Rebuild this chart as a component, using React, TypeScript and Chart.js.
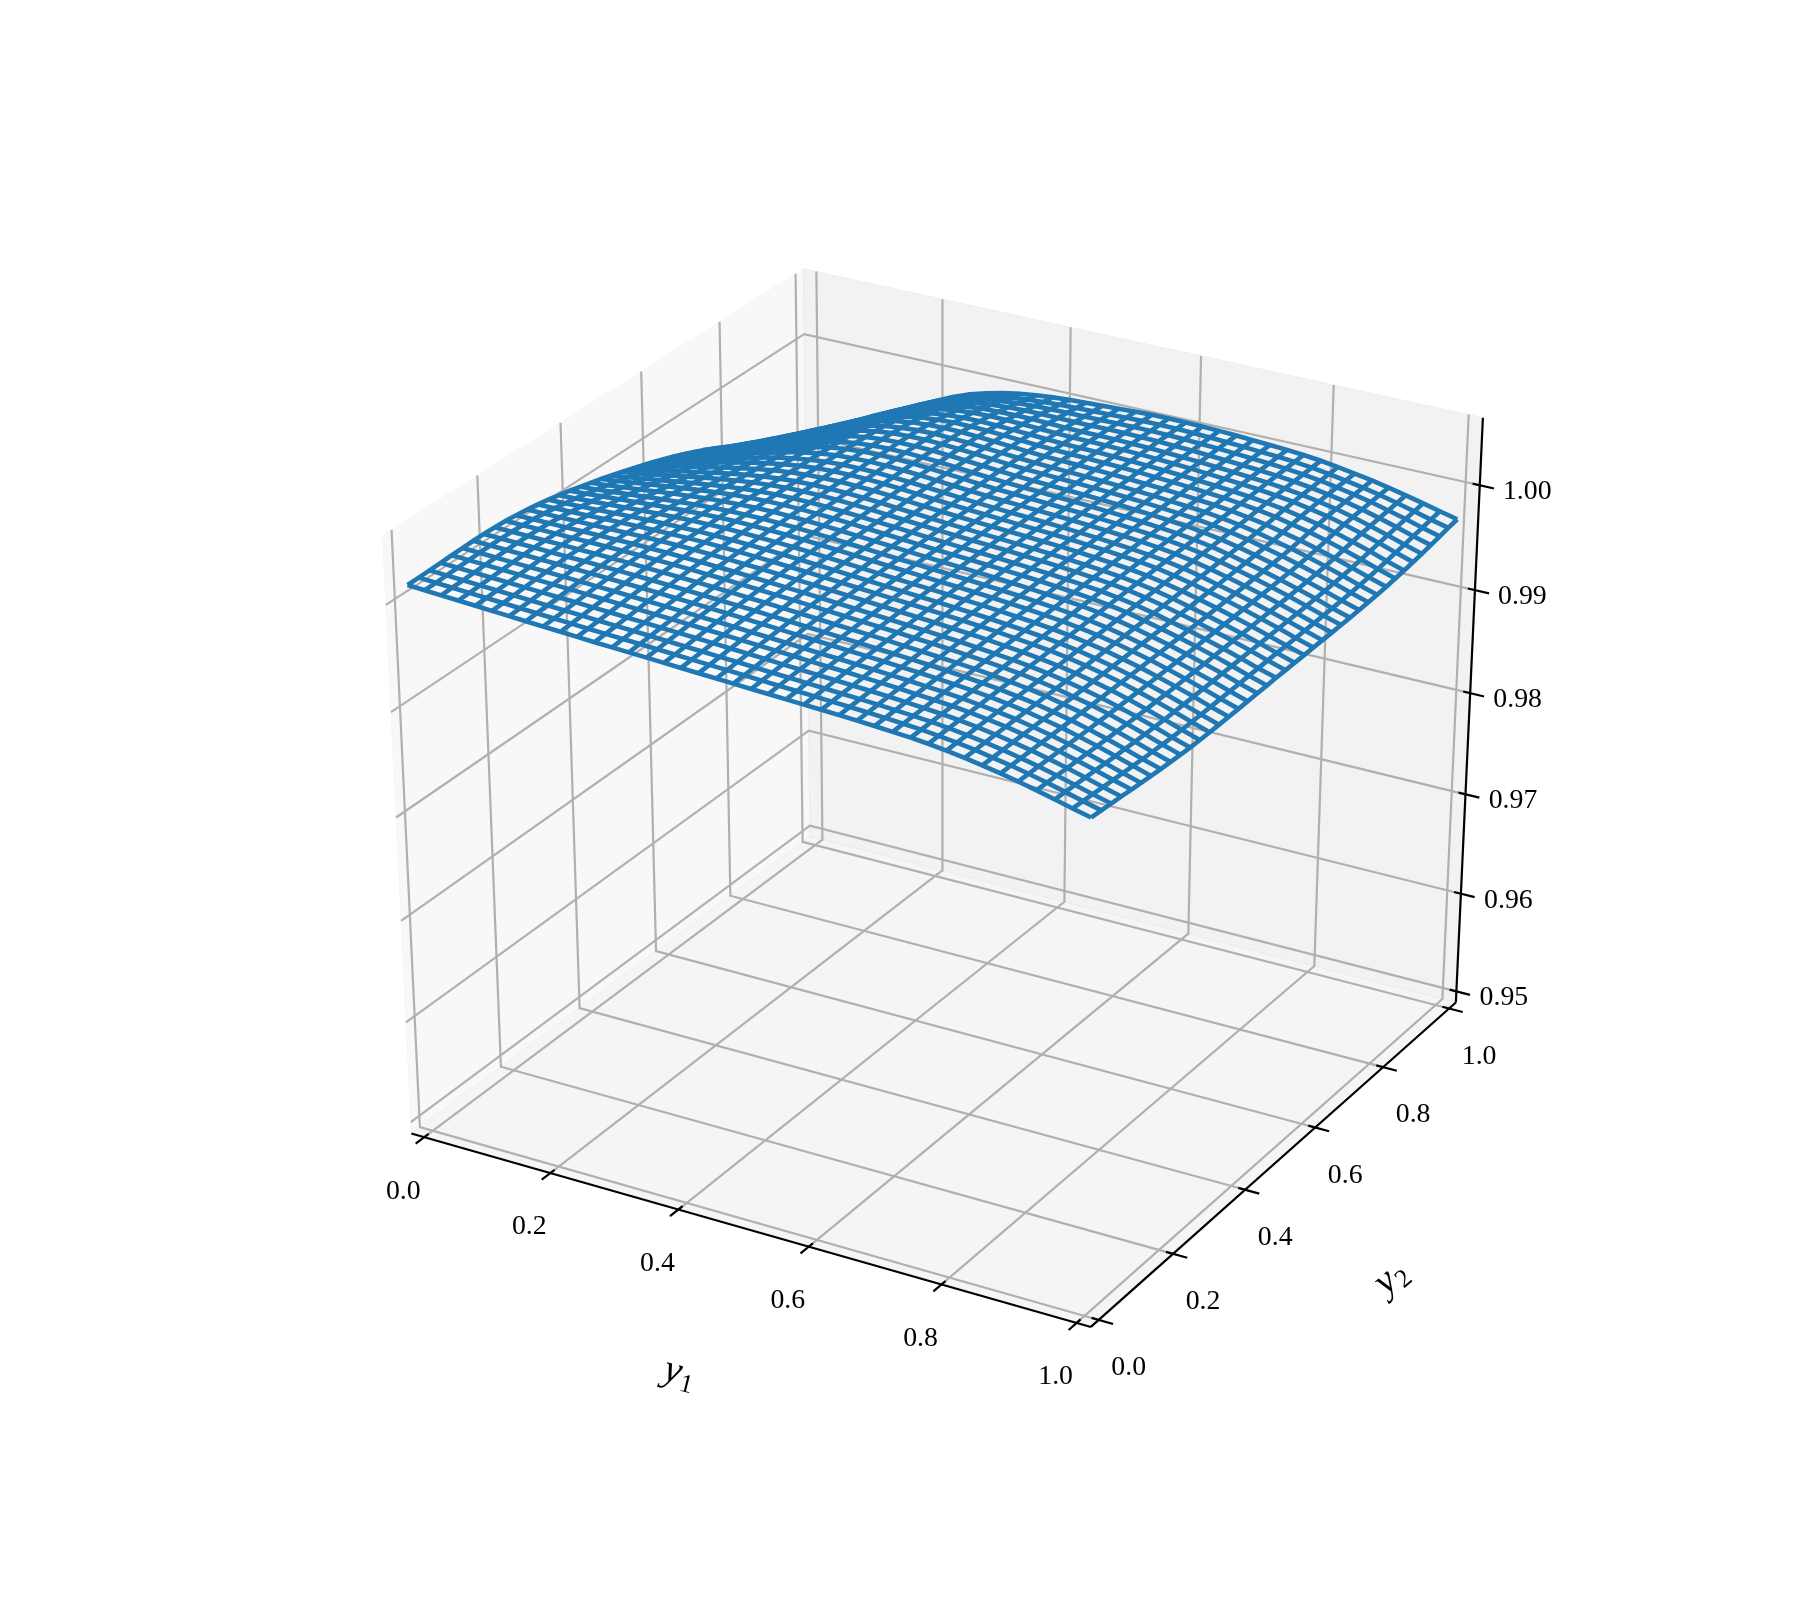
import React, { useEffect, useRef } from "react";
import { Chart, registerables } from "chart.js";
Chart.register(...registerables);

const xTicks = [0, 0.2, 0.4, 0.6, 0.8, 1.0];
const yTicks = [0, 0.2, 0.4, 0.6, 0.8, 1.0];
const zTicks = [0.95, 0.96, 0.97, 0.98, 0.99, 1.0];
const zLim = [0.95, 1.0052];
const gridY = [0,.026,.051,.077,.103,.128,.154,.179,.205,.231,.256,.282,.308,.333,.359,.385,.41,.436,.462,.487,.513,.538,.564,.59,.615,.641,.667,.692,.718,.744,.769,.795,.821,.846,.872,.897,.923,.949,.974,1];
// surface heights: z = 0.95 + value / 100000; one row per y2, one column per y1
const surfaceRows = [
[5160,5151,5141,5132,5123,5113,5104,5095,5086,5077,5068,5059,5051,5043,5035,5027,5019,5011,5003,4994,4986,4978,4970,4963,4955,4947,4938,4928,4916,4904,4888,4867,4843,4815,4784,4750,4712,4671,4630,4590],
[5161,5152,5144,5135,5127,5118,5109,5101,5092,5084,5075,5067,5059,5051,5043,5035,5026,5018,5010,5001,4992,4984,4976,4968,4959,4951,4941,4931,4919,4906,4889,4868,4843,4814,4783,4748,4709,4667,4624,4582],
[5164,5156,5148,5140,5132,5124,5116,5108,5100,5092,5083,5075,5067,5059,5051,5042,5034,5025,5017,5008,4998,4990,4981,4973,4964,4955,4945,4934,4922,4908,4891,4869,4844,4814,4782,4746,4705,4661,4617,4574],
[5167,5160,5152,5145,5138,5130,5123,5115,5108,5100,5092,5084,5076,5067,5059,5051,5042,5033,5024,5015,5005,4996,4987,4978,4969,4959,4949,4937,4924,4910,4892,4870,4844,4814,4781,4743,4701,4656,4610,4566],
[5171,5164,5157,5150,5144,5137,5130,5123,5116,5108,5100,5092,5084,5076,5067,5059,5050,5041,5031,5022,5012,5002,4993,4984,4974,4964,4953,4940,4927,4912,4894,4871,4844,4814,4779,4741,4697,4651,4603,4557],
[5174,5168,5161,5155,5149,5143,5137,5130,5123,5116,5108,5101,5092,5084,5075,5067,5058,5048,5038,5028,5018,5008,4999,4989,4979,4968,4956,4944,4930,4914,4895,4872,4845,4813,4778,4739,4693,4645,4596,4548],
[5176,5170,5165,5159,5154,5148,5143,5137,5130,5124,5116,5109,5100,5092,5083,5074,5065,5055,5045,5035,5025,5014,5004,4994,4983,4972,4960,4947,4932,4916,4897,4873,4845,4813,4777,4736,4690,4640,4590,4540],
[5176,5171,5166,5162,5157,5152,5148,5142,5137,5131,5124,5116,5108,5100,5091,5082,5072,5062,5052,5041,5031,5020,5010,4999,4988,4976,4964,4950,4935,4918,4899,4874,4846,4813,4776,4734,4687,4636,4584,4533],
[5173,5169,5166,5162,5159,5155,5151,5147,5142,5136,5130,5123,5115,5107,5098,5088,5079,5068,5058,5047,5036,5025,5015,5004,4992,4980,4967,4953,4938,4920,4900,4876,4847,4813,4776,4733,4684,4632,4579,4527],
[5167,5164,5162,5160,5158,5156,5153,5150,5146,5141,5135,5129,5121,5113,5104,5094,5084,5074,5063,5052,5041,5030,5019,5008,4996,4984,4971,4956,4940,4923,4903,4877,4848,4813,4775,4732,4682,4629,4575,4522],
[5157,5156,5155,5155,5154,5153,5152,5151,5148,5145,5139,5133,5126,5118,5109,5099,5089,5079,5068,5057,5045,5034,5023,5012,5000,4988,4974,4959,4943,4925,4905,4879,4849,4814,4775,4731,4681,4627,4572,4519],
[5144,5144,5145,5147,5148,5149,5150,5150,5149,5147,5143,5137,5130,5122,5113,5104,5093,5083,5072,5060,5049,5038,5027,5015,5004,4991,4977,4963,4946,4928,4907,4881,4850,4815,4775,4731,4680,4626,4571,4518],
[5127,5130,5133,5136,5140,5143,5146,5148,5149,5148,5145,5140,5133,5126,5117,5107,5097,5086,5075,5063,5052,5041,5030,5019,5007,4994,4981,4966,4949,4931,4910,4883,4852,4816,4776,4731,4681,4627,4572,4518],
[5109,5113,5118,5124,5130,5136,5141,5145,5147,5148,5146,5142,5136,5129,5120,5110,5100,5089,5077,5066,5055,5044,5033,5022,5010,4998,4984,4969,4953,4935,4913,4886,4853,4817,4776,4732,4681,4627,4573,4520],
[5087,5094,5102,5110,5119,5127,5135,5141,5145,5147,5147,5144,5138,5131,5123,5113,5102,5091,5079,5068,5057,5046,5036,5025,5013,5001,4987,4973,4956,4938,4916,4888,4855,4818,4777,4732,4682,4629,4575,4522],
[5064,5073,5084,5095,5106,5117,5127,5135,5142,5146,5147,5144,5140,5133,5125,5115,5104,5093,5081,5070,5059,5049,5038,5027,5016,5004,4990,4976,4959,4941,4919,4891,4857,4819,4778,4734,4684,4631,4577,4525],
[5039,5051,5064,5078,5092,5106,5118,5129,5138,5144,5146,5145,5141,5135,5126,5117,5106,5094,5083,5071,5061,5050,5040,5030,5019,5007,4994,4979,4963,4944,4922,4894,4859,4821,4779,4735,4685,4633,4580,4528],
[5012,5027,5043,5060,5077,5094,5109,5123,5133,5141,5145,5145,5142,5136,5128,5118,5107,5096,5084,5073,5062,5052,5042,5032,5021,5009,4996,4982,4966,4948,4926,4896,4861,4822,4781,4736,4687,4636,4583,4532],
[4984,5002,5021,5041,5061,5081,5099,5115,5129,5138,5144,5145,5143,5137,5129,5119,5108,5097,5085,5074,5063,5054,5044,5034,5023,5012,4999,4985,4969,4951,4929,4899,4863,4824,4782,4738,4690,4638,4586,4535],
[4955,4975,4997,5021,5044,5067,5088,5107,5123,5135,5142,5145,5143,5138,5130,5121,5109,5098,5086,5075,5065,5055,5046,5036,5025,5014,5002,4988,4972,4954,4931,4901,4866,4826,4784,4740,4692,4641,4589,4539],
[4925,4948,4973,5000,5027,5053,5077,5099,5118,5132,5141,5144,5144,5139,5131,5122,5110,5099,5087,5076,5066,5056,5047,5038,5027,5016,5004,4990,4974,4956,4934,4904,4868,4828,4786,4742,4694,4643,4592,4541],
[4894,4920,4949,4979,5009,5038,5066,5091,5112,5129,5139,5144,5144,5140,5133,5123,5111,5099,5087,5076,5067,5057,5048,5039,5029,5018,5006,4992,4976,4958,4936,4906,4870,4830,4788,4744,4696,4645,4594,4544],
[4861,4891,4923,4957,4990,5023,5054,5082,5106,5125,5138,5144,5145,5141,5134,5124,5112,5100,5088,5077,5067,5058,5049,5040,5030,5020,5008,4994,4978,4961,4939,4908,4872,4832,4790,4746,4698,4647,4596,4546],
[4827,4860,4896,4933,4971,5008,5042,5073,5100,5121,5136,5143,5145,5142,5135,5125,5113,5100,5088,5077,5068,5059,5050,5041,5032,5021,5009,4996,4980,4963,4941,4911,4875,4835,4793,4749,4700,4650,4598,4548],
[4792,4828,4868,4909,4950,4991,5029,5064,5094,5117,5134,5143,5145,5142,5135,5125,5113,5101,5088,5077,5068,5059,5051,5042,5033,5022,5011,4997,4982,4965,4943,4913,4877,4837,4795,4751,4703,4652,4601,4551],
[4755,4795,4838,4883,4929,4973,5015,5053,5086,5112,5131,5141,5145,5142,5136,5126,5113,5100,5088,5077,5068,5060,5051,5043,5034,5023,5012,4999,4984,4967,4945,4915,4879,4840,4798,4754,4706,4655,4603,4553],
[4715,4759,4806,4856,4905,4954,4999,5041,5077,5106,5127,5139,5143,5142,5135,5125,5113,5100,5087,5076,5068,5060,5052,5043,5034,5024,5013,5000,4985,4968,4947,4918,4882,4843,4801,4757,4709,4658,4607,4556],
[4673,4721,4773,4826,4880,4932,4982,5028,5067,5099,5122,5136,5141,5140,5134,5125,5112,5099,5087,5076,5067,5060,5052,5044,5035,5025,5014,5002,4987,4970,4949,4920,4885,4846,4805,4761,4713,4662,4610,4560],
[4629,4681,4737,4794,4853,4909,4963,5013,5056,5091,5116,5131,5138,5138,5133,5123,5111,5098,5086,5075,5067,5060,5052,5045,5036,5026,5015,5003,4988,4972,4951,4923,4888,4850,4809,4765,4717,4666,4614,4564],
[4582,4638,4698,4760,4823,4884,4943,4996,5042,5080,5108,5126,5134,5135,5130,5121,5110,5097,5084,5074,5067,5060,5053,5045,5037,5027,5017,5004,4990,4974,4954,4926,4892,4854,4814,4770,4722,4671,4619,4569],
[4527,4588,4653,4720,4788,4854,4917,4975,5025,5067,5098,5117,5128,5130,5126,5118,5107,5095,5083,5073,5066,5060,5053,5046,5038,5028,5018,5005,4992,4976,4956,4930,4897,4860,4820,4777,4729,4678,4626,4575],
[4457,4524,4594,4668,4742,4814,4883,4946,5002,5048,5082,5105,5118,5122,5120,5113,5103,5091,5080,5071,5066,5060,5053,5046,5038,5029,5018,5006,4993,4978,4959,4934,4904,4869,4831,4788,4739,4687,4635,4583],
[4379,4451,4528,4608,4689,4768,4843,4912,4973,5024,5063,5089,5104,5111,5111,5106,5097,5087,5077,5069,5064,5059,5053,5047,5039,5029,5019,5007,4994,4980,4962,4940,4912,4879,4843,4800,4752,4699,4645,4594],
[4300,4378,4461,4547,4634,4719,4800,4875,4941,4997,5039,5069,5088,5097,5100,5096,5089,5081,5072,5066,5062,5058,5053,5047,5039,5030,5019,5008,4995,4981,4965,4945,4920,4889,4854,4813,4764,4711,4657,4605],
[4228,4311,4399,4490,4582,4672,4758,4837,4908,4967,5014,5047,5068,5081,5086,5085,5080,5073,5067,5062,5060,5057,5052,5046,5039,5030,5020,5009,4996,4983,4968,4949,4926,4897,4864,4823,4775,4723,4670,4618],
[4167,4253,4344,4439,4534,4627,4716,4799,4873,4935,4985,5021,5045,5061,5068,5070,5068,5064,5059,5056,5056,5054,5050,5045,5038,5030,5020,5009,4998,4985,4971,4953,4930,4902,4870,4831,4784,4734,4682,4633],
[4110,4199,4292,4389,4486,4582,4673,4758,4834,4899,4951,4990,5018,5036,5047,5052,5053,5052,5050,5049,5051,5051,5048,5044,5037,5030,5020,5010,4999,4987,4973,4955,4933,4906,4874,4837,4793,4745,4696,4649],
[4057,4147,4242,4340,4439,4536,4629,4716,4794,4861,4915,4957,4988,5010,5024,5032,5037,5039,5040,5042,5045,5046,5045,5042,5036,5029,5021,5011,5000,4989,4976,4958,4935,4908,4877,4842,4800,4756,4710,4666],
[4004,4096,4192,4292,4392,4490,4585,4673,4753,4822,4879,4923,4957,4982,5000,5012,5020,5025,5029,5034,5039,5042,5042,5040,5035,5029,5021,5012,5001,4991,4978,4960,4937,4910,4880,4847,4808,4766,4724,4683],
[3950,4043,4142,4243,4345,4445,4541,4631,4713,4785,4843,4890,4927,4956,4977,4993,5004,5012,5019,5026,5034,5038,5040,5038,5034,5029,5021,5012,5003,4993,4980,4962,4939,4913,4884,4852,4816,4777,4738,4700],
];

const P=1/48;
function pj(x:number,y:number,t:number){
 const E=Math.PI/6,A=-Math.PI/3;
 const w=[Math.cos(E)*Math.cos(A),Math.cos(E)*Math.sin(A),Math.sin(E)];
 const n=Math.hypot(w[0],w[1]);const u=[-w[1]/n,w[0]/n,0];
 const v=[w[1]*u[2]-w[2]*u[1],w[2]*u[0]-w[0]*u[2],w[0]*u[1]-w[1]*u[0]];
 const q=[x-.5-10*w[0],y-.5-10*w[1],t-.5-10*w[2]];
 const d=(s:number[])=>s[0]*q[0]+s[1]*q[1]+s[2]*q[2];
 const zv=-d(w);
 return {x:942+7530*d(u)/zv,y:779-6550*d(v)/zv};
}
const tz=(z:number)=>(z-zLim[0])/(zLim[1]-zLim[0]);
const zAt=(j:number,k:number)=>tz(0.95+surfaceRows[j][k]/100000);
const GRID="#b0b0b0";
function line(pts:{x:number,y:number}[],color:string,width:number,extra:any={}){
 return {data:pts,showLine:true,borderColor:color,borderWidth:width,pointRadius:0,fill:false,tension:0,clip:false,borderJoinStyle:"miter",...extra};
}
function buildDatasets(){
 const L=-P,H=1+P;const ds:any[]=[];
 const pane=(pts:number[][],c:string)=>ds.push(line(pts.map(p=>pj(p[0],p[1],p[2])),c,1,{fill:"shape",backgroundColor:c}));
 pane([[L,L,L],[L,H,L],[L,H,H],[L,L,H],[L,L,L]],"rgba(242,242,242,0.5)");
 pane([[L,H,L],[H,H,L],[H,H,H],[L,H,H],[L,H,L]],"rgba(229,229,229,0.5)");
 pane([[L,L,L],[H,L,L],[H,H,L],[L,H,L],[L,L,L]],"rgba(236,236,236,0.5)");
 for(const x of xTicks) ds.push(line([pj(x,L,L),pj(x,H,L),pj(x,H,H)],GRID,2.2));
 for(const y of yTicks) ds.push(line([pj(H,y,L),pj(L,y,L),pj(L,y,H)],GRID,2.2));
 for(const z of zTicks){const t=tz(z);ds.push(line([pj(L,L,t),pj(L,H,t),pj(H,H,t)],GRID,2.2));}
 ds.push(line([pj(L,L,L),pj(H,L,L)],"#000",2.2));
 ds.push(line([pj(H,L,L),pj(H,H,L)],"#000",2.2));
 ds.push(line([pj(H,H,L),pj(H,H,H)],"#000",2.2));
 const o=.021,i=.0105;
 for(const x of xTicks) ds.push(line([pj(x,L-o,L),pj(x,L+i,L)],"#000",2.2));
 for(const y of yTicks) ds.push(line([pj(H+o,y,L),pj(H-i,y,L)],"#000",2.2));
 for(const z of zTicks){const t=tz(z);ds.push(line([pj(H+o,H,t),pj(H-i,H,t)],"#000",2.2));}
 const WIRE="#1f77b4";
 gridY.forEach((b,j)=>ds.push(line(gridY.map((a,k)=>pj(a,b,zAt(j,k))),WIRE,4.6)));
 gridY.forEach((a,k)=>ds.push(line(gridY.map((b,j)=>pj(a,b,zAt(j,k))),WIRE,4.6)));
 return ds.reverse();
}
const labelsPlugin={id:"labels",afterDatasetsDraw(chart:any){
 const c=chart.ctx,sx=chart.scales.x,sy=chart.scales.y;const L=-1/48,H=1+1/48;
 const at=(p:{x:number,y:number})=>({x:sx.getPixelForValue(p.x),y:sy.getPixelForValue(p.y)});
 c.save();c.fillStyle="#000";c.textAlign="center";c.textBaseline="middle";c.font='27.8px "Liberation Serif"';
 xTicks.forEach(x=>{const p=at(pj(x,L,L));c.fillText(x.toFixed(1),p.x-21,p.y+54);});
 yTicks.forEach(y=>{const p=at(pj(H,y,L));c.fillText(y.toFixed(1),p.x+30,p.y+48);});
 zTicks.forEach(z=>{const p=at(pj(H,H,tz(z)));c.fillText(z.toFixed(2),p.x+47.5,p.y+6.5);});
 const lab=(p:{x:number,y:number},rot:number,sub:string)=>{c.save();c.translate(p.x,p.y);c.rotate(rot);c.textAlign="left";c.font='italic 39px "Liberation Serif"';c.fillText("y",-15,-3);c.font='26px "Liberation Serif"';c.fillText(sub,3,7);c.restore();};
 const mx=at(pj(.5,L,L));lab({x:mx.x-65,y:mx.y+148},14*Math.PI/180,"1");
 const my=at(pj(H,.5,L));lab({x:my.x+112,y:my.y+122},-41*Math.PI/180,"2");
 c.restore();
}};
export default function App(){const ref=useRef<HTMLCanvasElement>(null);
useEffect(()=>{const ch=new Chart(ref.current!,{type:"scatter",data:{datasets:buildDatasets()},plugins:[labelsPlugin],options:{animation:false,responsive:false,events:[],layout:{padding:0},plugins:{legend:{display:false},tooltip:{enabled:false},title:{display:false}},scales:{x:{type:"linear",display:false,min:0,max:1800},y:{type:"linear",display:false,min:0,max:1600,reverse:true}}}} as any);return()=>ch.destroy();},[]);
return <canvas ref={ref} width={1800} height={1600} style={{position:"absolute",left:0,top:0,width:1800,height:1600}}/>}
